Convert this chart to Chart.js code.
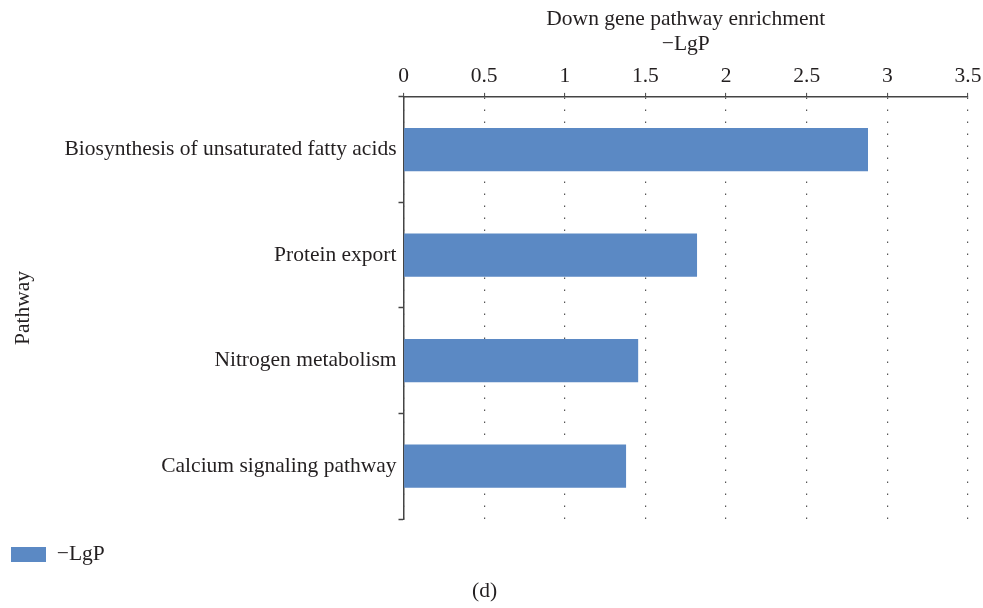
<!DOCTYPE html>
<html>
<head>
<meta charset="utf-8">
<script src="https://cdn.jsdelivr.net/npm/chart.js@4/dist/chart.umd.min.js"></script>
<style>
html,body{margin:0;padding:0;background:#fff;}
#wrap{width:983px;height:608px;position:relative;}
</style>
</head>
<body>
<div id="wrap"><canvas id="c"></canvas></div>
<script>
const categories = ["Biosynthesis of unsaturated fatty acids", "Protein export", "Nitrogen metabolism", "Calcium signaling pathway"];
const lgpValues = [2.88, 1.82, 1.455, 1.38];
const xTicks = [0, 0.5, 1, 1.5, 2, 2.5, 3, 3.5];
const seriesName = "\u2212LgP";
const chartTitle = "Down gene pathway enrichment";
const xTitle = "\u2212LgP";
const yTitle = "Pathway";
const caption = "(d)";

const FONT = "'Liberation Serif', 'DejaVu Serif', serif";
const TXT = '#231f20';
const FS = 21.5;
Chart.defaults.font.family = FONT;
Chart.defaults.color = TXT;

new Chart(document.getElementById('c'), {
  type: 'bar',
  data: {
    labels: categories,
    datasets: [{
      label: seriesName,
      data: lgpValues,
      backgroundColor: '#5b89c4',
      borderWidth: 0,
      categoryPercentage: 1,
      barPercentage: 0.41
    }]
  },
  options: {
    indexAxis: 'y',
    responsive: true,
    maintainAspectRatio: false,
    animation: false,
    layout: { padding: { left: 1, right: 15, top: 0, bottom: 0 } },
    plugins: {
      title: {
        display: true, text: chartTitle, fullSize: false,
        font: { size: FS, weight: 'normal' }, color: TXT,
        padding: { top: 6, bottom: 0 }
      },
      subtitle: {
        display: true, text: caption, position: 'bottom', weight: 1500,
        font: { size: FS, weight: 'normal' }, color: TXT,
        padding: { top: 3, bottom: 4 }
      },
      legend: {
        display: true, position: 'bottom', align: 'start', weight: 1000,
        title: { display: true, text: ' ', font: { size: 1 }, padding: { top: 13.5, bottom: 0 } },
        labels: { boxWidth: 35, boxHeight: 15, font: { size: FS }, color: TXT, padding: 10 }
      },
      tooltip: { enabled: false }
    },
    scales: {
      x: {
        position: 'top',
        min: 0, max: 3.5,
        afterBuildTicks: (s) => { s.ticks = xTicks.map(v => ({ value: v })); },
        afterFit: (s) => { s.paddingRight = 0; s.paddingLeft = 0; },
        ticks: { font: { size: FS }, color: TXT, padding: 3.5,
          callback: (v) => String(v) },
        title: { display: true, text: xTitle, font: { size: FS }, color: TXT, padding: { top: 0, bottom: 2.5 } },
        grid: { display: true, drawOnChartArea: true, color: '#555', lineWidth: 1.2,
          tickLength: 4, tickColor: '#444', tickBorderDash: [], tickWidth: 1 },
        border: { display: true, color: '#444', width: 1.5, dash: [1.5, 10.5] }
      },
      y: {
        afterFit: (s) => { s.width = 402.5; },
        ticks: { font: { size: FS }, color: TXT, padding: 2 },
        title: { display: true, text: yTitle, font: { size: FS }, color: TXT, padding: { top: 9, bottom: 0 } },
        grid: { display: true, drawOnChartArea: false, offset: true, tickLength: 5, tickColor: '#444', tickWidth: 1.5 },
        border: { display: true, color: '#444', width: 1.5 }
      }
    }
  }
});
</script>
</body>
</html>
